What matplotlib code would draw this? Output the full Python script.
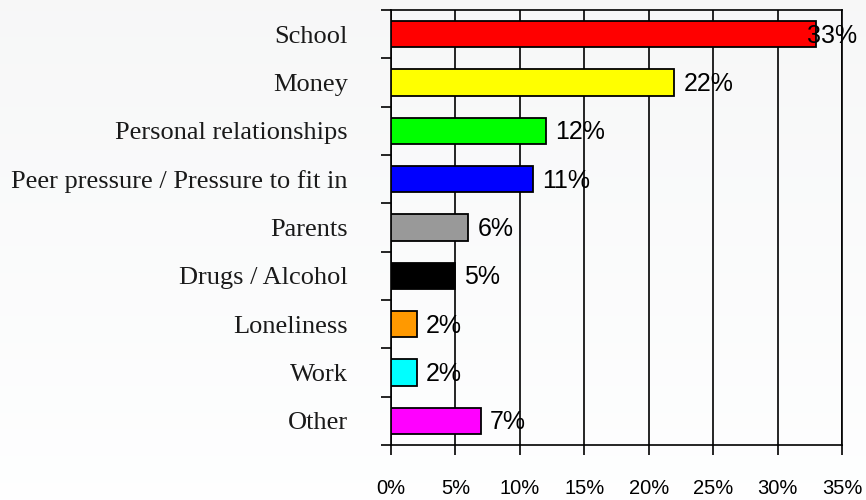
import numpy as np
import matplotlib
matplotlib.use('Agg')
import matplotlib.pyplot as plt
from matplotlib.ticker import FixedLocator

# Sources of stress, share of respondents (%)
categories = ['School', 'Money', 'Personal relationships',
              'Peer pressure / Pressure to fit in', 'Parents',
              'Drugs / Alcohol', 'Loneliness', 'Work', 'Other']
values = [33, 22, 12, 11, 6, 5, 2, 2, 7]
colors = ['#ff0000', '#ffff00', '#00ff00', '#0000ff', '#999999',
          '#000000', '#ff9900', '#00ffff', '#ff00ff']
xticks = [0, 5, 10, 15, 20, 25, 30, 35]


def main():
    fig = plt.figure(figsize=(8.66, 5), dpi=100)

    # faint grey wash fading out towards the bottom of the page
    bg = fig.add_axes([0, 0, 1, 1], zorder=-10)
    grad = np.linspace(0.972, 1.0, 256).reshape(-1, 1)
    bg.imshow(np.dstack([grad - 0.003, grad - 0.0015, grad]), aspect='auto',
              extent=[0, 1, 0, 1], origin='upper', vmin=0, vmax=1)
    bg.axis('off')

    ax = fig.add_axes([0.4515, 0.11, 0.5208, 0.87])
    ax.set_facecolor('none')

    y = np.arange(len(categories))
    ax.barh(y, values, height=0.55, color=colors, edgecolor='black',
            linewidth=1.3, zorder=3)

    # value labels, kept inside the frame for the longest bar
    for yi, v in zip(y, values):
        ax.text(min(v + 0.7, 32.25), yi + 0.03, f'{v}%', ha='left', va='center',
                fontsize=18, family='Liberation Sans', color='black', zorder=4)

    ax.set_xlim(0, 35)
    ax.set_ylim(len(categories) - 0.5, -0.5)

    ax.xaxis.set_major_locator(FixedLocator(xticks))
    ax.set_xticklabels([f'{t}%' for t in xticks])
    ax.tick_params(axis='x', length=7.5, width=1.2, pad=17, direction='out',
                   labelsize=14.5)
    for lab in ax.get_xticklabels():
        lab.set_family('Liberation Sans')
    ax.grid(axis='x', color='black', linewidth=1.2, zorder=1)
    ax.set_axisbelow(True)

    # category names centred on bars, ticks on the boundaries between them
    ax.set_yticks(y)
    ax.set_yticklabels(categories)
    ax.tick_params(axis='y', which='major', length=0, pad=31, labelsize=19,
                   labelcolor='#1a1a1a')
    for lab in ax.get_yticklabels():
        lab.set_family('Liberation Serif')
    ax.yaxis.set_minor_locator(FixedLocator(np.arange(-0.5, len(categories), 1)))
    ax.tick_params(axis='y', which='minor', length=7.5, width=1.2,
                   direction='out')

    for side in ['left', 'bottom', 'top', 'right']:
        ax.spines[side].set_linewidth(1.2)
        ax.spines[side].set_color('black')

    plt.savefig('out.png', dpi=100)


if __name__ == '__main__':
    main()
